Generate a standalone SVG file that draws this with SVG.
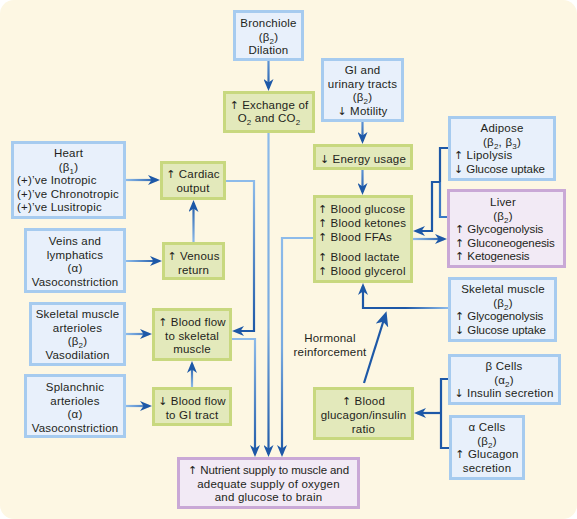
<svg xmlns="http://www.w3.org/2000/svg" width="577" height="519" viewBox="0 0 577 519">
<defs>
<style>
text{font-family:"Liberation Sans",Arial,sans-serif;font-size:11.5px;letter-spacing:0.2px;fill:#231f20}
.c{text-anchor:middle}
.s{font-size:8px}
.a{font-family:"DejaVu Sans",sans-serif;font-size:11px;letter-spacing:0}
.n{letter-spacing:-0.1px}
.blue{fill:#e8f0fb;stroke:#a6cbef;stroke-width:3}
.green{fill:#e3e9bb;stroke:#c8d87f;stroke-width:3}
.purple{fill:#f2eaf5;stroke:#c9a8d6;stroke-width:3}
.ln{fill:none;stroke-width:2.2;stroke-linejoin:miter}
.dk{stroke:#1d58a7}
.md{stroke:#3a78c4}
</style>
<marker id="ah" markerUnits="userSpaceOnUse" markerWidth="12" markerHeight="10" refX="9" refY="5" orient="auto">
<path d="M0,0 L12,5 L0,10 L3.5,5 Z" fill="#1d58a7"/>
</marker>
<marker id="ah2" markerUnits="userSpaceOnUse" markerWidth="15" markerHeight="13" refX="10" refY="6.5" orient="auto">
<path d="M0,0 L15,6.5 L0,13 L4,6.5 Z" fill="#1d58a7"/>
</marker>
<linearGradient id="gHL" gradientUnits="userSpaceOnUse" x1="126" y1="0" x2="158" y2="0"><stop offset="0" stop-color="#8dbbea"/><stop offset="1" stop-color="#1d58a7"/></linearGradient>
<linearGradient id="gCard" gradientUnits="userSpaceOnUse" x1="0" y1="181" x2="0" y2="331"><stop offset="0" stop-color="#8dbbea"/><stop offset="1" stop-color="#1d58a7"/></linearGradient>
<linearGradient id="gEx" gradientUnits="userSpaceOnUse" x1="0" y1="133" x2="0" y2="457"><stop offset="0" stop-color="#8dbbea"/><stop offset="0.6" stop-color="#78aae0"/><stop offset="1" stop-color="#1d58a7"/></linearGradient>
<linearGradient id="gBF" gradientUnits="userSpaceOnUse" x1="0" y1="339" x2="0" y2="457"><stop offset="0" stop-color="#8dbbea"/><stop offset="1" stop-color="#1d58a7"/></linearGradient>
<linearGradient id="gGl" gradientUnits="userSpaceOnUse" x1="0" y1="238" x2="0" y2="457"><stop offset="0" stop-color="#8dbbea"/><stop offset="0.5" stop-color="#78aae0"/><stop offset="1" stop-color="#1d58a7"/></linearGradient>
<linearGradient id="gVen" gradientUnits="userSpaceOnUse" x1="0" y1="242" x2="0" y2="203"><stop offset="0" stop-color="#8dbbea"/><stop offset="1" stop-color="#1d58a7"/></linearGradient>
<linearGradient id="gGIf" gradientUnits="userSpaceOnUse" x1="0" y1="387" x2="0" y2="364"><stop offset="0" stop-color="#8dbbea"/><stop offset="1" stop-color="#1d58a7"/></linearGradient>
<linearGradient id="gSk" gradientUnits="userSpaceOnUse" x1="448" y1="0" x2="363" y2="0"><stop offset="0" stop-color="#8dbbea"/><stop offset="0.5" stop-color="#1d58a7"/><stop offset="1" stop-color="#1d58a7"/></linearGradient>
<linearGradient id="gLiv" gradientUnits="userSpaceOnUse" x1="413" y1="0" x2="447" y2="0"><stop offset="0" stop-color="#8dbbea"/><stop offset="1" stop-color="#1d58a7"/></linearGradient>
<linearGradient id="gV1" gradientUnits="userSpaceOnUse" x1="0" y1="61" x2="0" y2="91"><stop offset="0" stop-color="#5d93d4"/><stop offset="1" stop-color="#1d58a7"/></linearGradient>
<linearGradient id="gV2" gradientUnits="userSpaceOnUse" x1="0" y1="122" x2="0" y2="144"><stop offset="0" stop-color="#5d93d4"/><stop offset="1" stop-color="#1d58a7"/></linearGradient>
<linearGradient id="gV3" gradientUnits="userSpaceOnUse" x1="0" y1="170" x2="0" y2="195"><stop offset="0" stop-color="#5d93d4"/><stop offset="1" stop-color="#1d58a7"/></linearGradient>
</defs>

<rect x="0" y="0" width="577" height="519" fill="#ffffff"/>
<rect x="0" y="0" width="577" height="519" rx="14" fill="#fdf7e3"/>

<g id="connectors">
<path class="ln" stroke="url(#gV1)" d="M268.5,61 V88" marker-end="url(#ah)"/>
<path class="ln" stroke="url(#gV2)" d="M362.5,122 V141" marker-end="url(#ah)"/>
<path class="ln" stroke="url(#gV3)" d="M362.5,170 V192" marker-end="url(#ah)"/>
<path class="ln" stroke="url(#gHL)" d="M126,180 H157" marker-end="url(#ah)"/>
<path class="ln" stroke="url(#gHL)" d="M126,261 H159" marker-end="url(#ah)"/>
<path class="ln" stroke="url(#gVen)" d="M193.5,242 V203" marker-end="url(#ah)"/>
<path class="ln" stroke="url(#gHL)" d="M126,334 H149" marker-end="url(#ah)"/>
<path class="ln" stroke="url(#gHL)" d="M126,406 H149" marker-end="url(#ah)"/>
<path class="ln" stroke="url(#gGIf)" d="M192,387 V364" marker-end="url(#ah)"/>
<path class="ln" stroke="url(#gCard)" d="M226,181 H254 V331 H235" marker-end="url(#ah)"/>
<path class="ln" stroke="url(#gEx)" d="M268.5,133 V454" marker-end="url(#ah)"/>
<path class="ln" stroke="url(#gBF)" d="M232,339 H255 V454" marker-end="url(#ah)"/>
<path class="ln" stroke="url(#gGl)" d="M313,238 H282 V454" marker-end="url(#ah)"/>
<path class="ln dk" d="M448,148 H440 V182"/>
<path class="ln md" d="M440,182 V217 H447"/>
<path class="ln dk" d="M440,182 H432 V231 H416" marker-end="url(#ah)"/>
<path class="ln" stroke="url(#gLiv)" d="M413,239 H444" marker-end="url(#ah)"/>
<path class="ln" stroke="url(#gSk)" d="M448,308 H363 V286" marker-end="url(#ah)"/>
<path class="ln dk" stroke-width="4" d="M364,383 L385,316" marker-end="url(#ah2)"/>
<path class="ln dk" d="M448,379 H441 V448 H449"/>
<path class="ln dk" d="M441,413 H417" marker-end="url(#ah)"/>
</g>

<g id="bronchiole">
<rect class="blue" x="234.5" y="11.5" width="68" height="48"/>
<text class="c" x="268.5" y="27">Bronchiole</text>
<text class="c" x="268.5" y="40.5">(β<tspan class="s" dy="3">2</tspan><tspan dy="-3">)</tspan></text>
<text class="c" x="268.5" y="54">Dilation</text>
</g>

<g id="exchange">
<rect class="green" x="224.5" y="92.5" width="89" height="39"/>
<text class="c" x="269" y="109"><tspan class="a">↑</tspan> Exchange of</text>
<text class="c" x="269" y="122">O<tspan class="s" dy="3">2</tspan><tspan dy="-3"> and CO</tspan><tspan class="s" dy="3">2</tspan></text>
</g>

<g id="gi-tracts">
<rect class="blue" x="322.5" y="59.5" width="80" height="61"/>
<text class="c" x="362.5" y="74">GI and</text>
<text class="c" x="362.5" y="87.5">urinary tracts</text>
<text class="c" x="362.5" y="101">(β<tspan class="s" dy="3">2</tspan><tspan dy="-3">)</tspan></text>
<text class="c" x="362.5" y="114.5"><tspan class="a">↓</tspan> Motility</text>
</g>

<g id="energy">
<rect class="green" x="314.5" y="145.5" width="97" height="23"/>
<text class="c" x="363" y="162.5"><tspan class="a">↓</tspan> Energy usage</text>
</g>

<g id="blood-glucose">
<rect class="green" x="314.5" y="196.5" width="97" height="85"/>
<text x="318" y="213"><tspan class="a">↑</tspan> Blood glucose</text>
<text x="318" y="227"><tspan class="a">↑</tspan> Blood ketones</text>
<text x="318" y="241"><tspan class="a">↑</tspan> Blood FFAs</text>
<text x="318" y="261"><tspan class="a">↑</tspan> Blood lactate</text>
<text x="318" y="275"><tspan class="a">↑</tspan> Blood glycerol</text>
</g>

<g id="adipose">
<rect class="blue" x="449.5" y="117.5" width="105" height="62"/>
<text class="c" x="502" y="132">Adipose</text>
<text class="c" x="502" y="145.5">(β<tspan class="s" dy="3">2</tspan><tspan dy="-3">, β</tspan><tspan class="s" dy="3">3</tspan><tspan dy="-3">)</tspan></text>
<text x="454" y="159"><tspan class="a">↑</tspan> Lipolysis</text>
<text class="n" x="454" y="172.5"><tspan class="a">↓</tspan> Glucose uptake</text>
</g>

<g id="liver">
<rect class="purple" x="448.5" y="190.5" width="116" height="76"/>
<text class="c" x="503" y="206">Liver</text>
<text class="c" x="503" y="219.5">(β<tspan class="s" dy="3">2</tspan><tspan dy="-3">)</tspan></text>
<text class="n" x="455" y="233"><tspan class="a">↑</tspan> Glycogenolysis</text>
<text class="n" x="455" y="246.5"><tspan class="a">↑</tspan> Gluconeogenesis</text>
<text class="n" x="455" y="260"><tspan class="a">↑</tspan> Ketogenesis</text>
</g>

<g id="skeletal-muscle">
<rect class="blue" x="449.5" y="278.5" width="106" height="62"/>
<text class="c" x="503" y="293">Skeletal muscle</text>
<text class="c" x="503" y="306.5">(β<tspan class="s" dy="3">2</tspan><tspan dy="-3">)</tspan></text>
<text class="n" x="455" y="320"><tspan class="a">↑</tspan> Glycogenolysis</text>
<text class="n" x="455" y="333.5"><tspan class="a">↓</tspan> Glucose uptake</text>
</g>

<g id="beta-cells">
<rect class="blue" x="449.5" y="355.5" width="110" height="48"/>
<text class="c" x="504" y="370">β Cells</text>
<text class="c" x="504" y="383.5">(α<tspan class="s" dy="3">2</tspan><tspan dy="-3">)</tspan></text>
<text class="c" x="504" y="397"><tspan class="a">↓</tspan> Insulin secretion</text>
</g>

<g id="alpha-cells">
<rect class="blue" x="450.5" y="416.5" width="73" height="62"/>
<text class="c" x="487" y="431">α Cells</text>
<text class="c" x="487" y="444.5">(β<tspan class="s" dy="3">2</tspan><tspan dy="-3">)</tspan></text>
<text class="c" x="487" y="458"><tspan class="a">↑</tspan> Glucagon</text>
<text class="c" x="487" y="471.5">secretion</text>
</g>

<g id="glucagon-ratio">
<rect class="green" x="314.5" y="388.5" width="98" height="50"/>
<text class="c" x="363.5" y="405"><tspan class="a">↑</tspan> Blood</text>
<text class="c" x="363.5" y="419">glucagon/insulin</text>
<text class="c" x="363.5" y="433">ratio</text>
</g>

<g id="hormonal-label">
<text class="c" x="330" y="342">Hormonal</text>
<text class="c" x="330" y="355.5">reinforcement</text>
</g>

<g id="nutrient">
<rect class="purple" x="178.5" y="458.5" width="180" height="49"/>
<text class="c n" x="268.5" y="474"><tspan class="a">↑</tspan> Nutrient supply to muscle and</text>
<text class="c" x="268.5" y="487.5">adequate supply of oxygen</text>
<text class="c" x="268.5" y="501">and glucose to brain</text>
</g>

<g id="heart">
<rect class="blue" x="12.5" y="142.5" width="112" height="75"/>
<text class="c" x="68.5" y="157">Heart</text>
<text class="c" x="68.5" y="170.5">(β<tspan class="s" dy="3">1</tspan><tspan dy="-3">)</tspan></text>
<text x="17" y="184">(+)’ve Inotropic</text>
<text x="17" y="197.5">(+)’ve Chronotropic</text>
<text x="17" y="211">(+)’ve Lusitropic</text>
</g>

<g id="cardiac-output">
<rect class="green" x="161.5" y="162.5" width="63" height="36"/>
<text class="c" x="193" y="178"><tspan class="a">↑</tspan> Cardiac</text>
<text class="c" x="193" y="191.5">output</text>
</g>

<g id="veins">
<rect class="blue" x="25.5" y="229.5" width="99" height="62"/>
<text class="c" x="75" y="245">Veins and</text>
<text class="c" x="75" y="258.5">lymphatics</text>
<text class="c" x="75" y="272">(α)</text>
<text class="c" x="75" y="285.5">Vasoconstriction</text>
</g>

<g id="venous-return">
<rect class="green" x="163.5" y="243.5" width="60" height="35"/>
<text class="c" x="193.5" y="260"><tspan class="a">↑</tspan> Venous</text>
<text class="c" x="193.5" y="273.5">return</text>
</g>

<g id="skeletal-arterioles">
<rect class="blue" x="30.5" y="303.5" width="94" height="61"/>
<text class="c" x="77.5" y="318">Skeletal muscle</text>
<text class="c" x="77.5" y="331.5">arterioles</text>
<text class="c" x="77.5" y="345">(β<tspan class="s" dy="3">2</tspan><tspan dy="-3">)</tspan></text>
<text class="c" x="77.5" y="358.5">Vasodilation</text>
</g>

<g id="blood-flow-skeletal">
<rect class="green" x="153.5" y="309.5" width="77" height="50"/>
<text class="c" x="192" y="326"><tspan class="a">↑</tspan> Blood flow</text>
<text class="c" x="192" y="339.5">to skeletal</text>
<text class="c" x="192" y="353">muscle</text>
</g>

<g id="splanchnic">
<rect class="blue" x="25.5" y="375.5" width="99" height="61"/>
<text class="c" x="75" y="391">Splanchnic</text>
<text class="c" x="75" y="404.5">arterioles</text>
<text class="c" x="75" y="418">(α)</text>
<text class="c" x="75" y="431.5">Vasoconstriction</text>
</g>

<g id="blood-flow-gi">
<rect class="green" x="153.5" y="388.5" width="77" height="36"/>
<text class="c" x="192" y="405"><tspan class="a">↓</tspan> Blood flow</text>
<text class="c" x="192" y="418.5">to GI tract</text>
</g>
</svg>
